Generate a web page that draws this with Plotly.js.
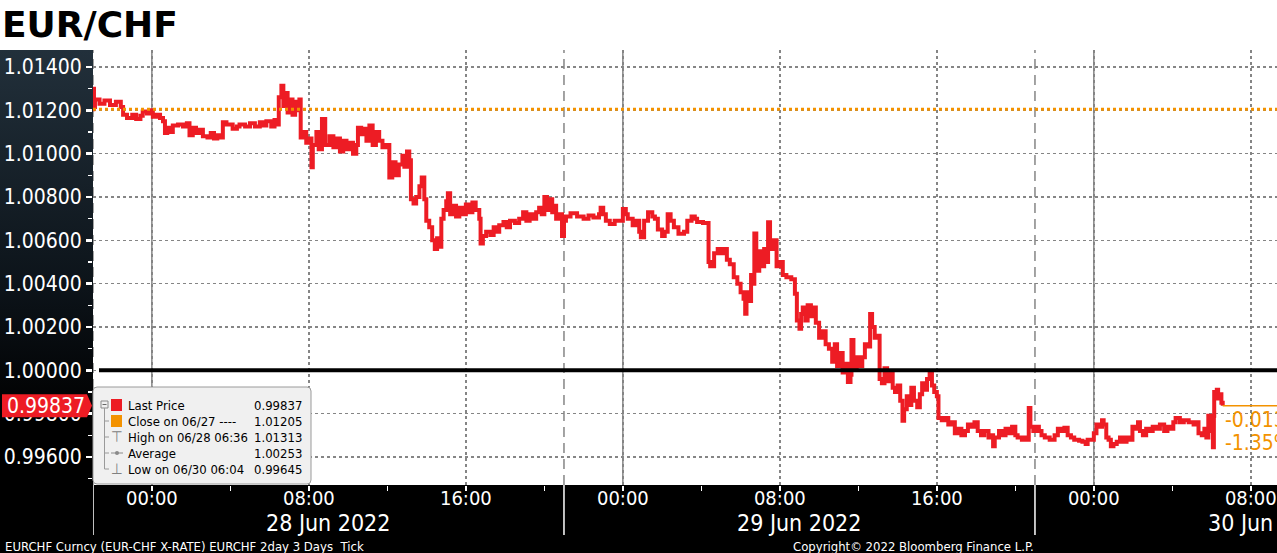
<!DOCTYPE html>
<html><head><meta charset="utf-8">
<script src="https://cdn.plot.ly/plotly-3.0.1.min.js"></script>
<style>html,body{margin:0;padding:0;background:#fff;overflow:hidden}#chart{width:1277px;height:553px}</style>
</head><body><div id="chart"></div>
<script>
// ---- data (EURCHF ticks) ----
const jun27 = [["21:00",1.01205],["21:01",1.01300],["21:03",1.01215],["21:06",1.01250],["21:20",1.01230],["21:35",1.01245],["21:52",1.01225],["22:10",1.01240],["22:25",1.01215],["22:32",1.01180],["22:44",1.01165],["23:00",1.01180],["23:12",1.01160],["23:25",1.01175],["23:32",1.01195],["23:45",1.01185],["23:54",1.01200]];
const jun28 = [["00:03",1.01170],["00:15",1.01180],["00:25",1.01165],["00:34",1.01150],["00:40",1.01095],["00:47",1.01120],["00:55",1.01100],["01:04",1.01130],["01:20",1.01135],["01:35",1.01125],["01:47",1.01140],["01:55",1.01085],["02:05",1.01120],["02:15",1.01095],["02:26",1.01110],["02:36",1.01080],["02:50",1.01075],["03:00",1.01095],["03:10",1.01070],["03:20",1.01085],["03:27",1.01075],["03:37",1.01145],["03:48",1.01135],["04:07",1.01115],["04:20",1.01125],["04:28",1.01135],["04:45",1.01125],["05:00",1.01140],["05:15",1.01125],["05:30",1.01145],["05:38",1.01130],["05:50",1.01150],["06:05",1.01125],["06:15",1.01155],["06:21",1.01135],["06:28",1.01260],["06:36",1.01313],["06:42",1.01220],["06:48",1.01280],["06:55",1.01190],["07:02",1.01250],["07:10",1.01180],["07:18",1.01240],["07:25",1.01200],["07:31",1.01250],["07:35",1.01075],["07:45",1.01100],["07:52",1.01050],["08:02",1.01070],["08:08",1.00937],["08:12",1.01040],["08:23",1.01100],["08:30",1.01020],["08:40",1.01160],["08:50",1.01040],["09:03",1.01080],["09:15",1.01030],["09:25",1.01070],["09:35",1.01010],["09:45",1.01060],["09:55",1.01020],["10:05",1.01050],["10:15",1.01000],["10:25",1.01040],["10:30",1.01120],["10:40",1.01090],["10:50",1.01115],["10:56",1.01060],["11:05",1.01130],["11:15",1.01040],["11:25",1.01100],["11:35",1.01060],["11:45",1.01030],["11:55",1.01040],["12:06",1.00890],["12:15",1.00960],["12:25",1.00900],["12:35",1.00950],["12:46",1.00990],["12:52",1.00940],["13:00",1.01010],["13:07",1.00970],["13:12",1.00790],["13:20",1.00770],["13:28",1.00800],["13:38",1.00850],["13:45",1.00890],["13:53",1.00790],["13:59",1.00690],["14:08",1.00660],["14:17",1.00600],["14:25",1.00560],["14:32",1.00610],["14:40",1.00570],["14:45",1.00700],["14:52",1.00740],["15:00",1.00780],["15:05",1.00817],["15:12",1.00720],["15:20",1.00760],["15:30",1.00710],["15:40",1.00750],["15:50",1.00720],["16:00",1.00765],["16:10",1.00730],["16:20",1.00775],["16:30",1.00740],["16:41",1.00700],["16:45",1.00585],["16:52",1.00620],["17:02",1.00640],["17:15",1.00625],["17:25",1.00660],["17:35",1.00640],["17:42",1.00670],["17:55",1.00685],["18:05",1.00660],["18:15",1.00690],["18:30",1.00680],["18:43",1.00700],["18:55",1.00730],["19:05",1.00690],["19:15",1.00720],["19:25",1.00700],["19:35",1.00730],["19:44",1.00750],["19:52",1.00720],["20:00",1.00800],["20:08",1.00740],["20:15",1.00790],["20:24",1.00730],["20:30",1.00760],["20:36",1.00700],["20:45",1.00720],["20:54",1.00620],["21:00",1.00690],["21:06",1.00710],["21:20",1.00725],["21:40",1.00710],["22:00",1.00700],["22:15",1.00715],["22:30",1.00705],["22:47",1.00720],["22:52",1.00750],["23:00",1.00720],["23:08",1.00690],["23:20",1.00675],["23:35",1.00690],["23:48",1.00690]];
const jun29 = [["00:00",1.00745],["00:09",1.00720],["00:15",1.00700],["00:30",1.00670],["00:40",1.00690],["00:50",1.00640],["00:55",1.00614],["01:05",1.00690],["01:17",1.00730],["01:30",1.00710],["01:38",1.00700],["01:47",1.00650],["02:00",1.00620],["02:08",1.00640],["02:17",1.00720],["02:26",1.00690],["02:36",1.00660],["02:50",1.00630],["03:07",1.00640],["03:17",1.00690],["03:30",1.00710],["03:40",1.00700],["03:47",1.00685],["04:05",1.00680],["04:18",1.00680],["04:22",1.00500],["04:27",1.00480],["04:39",1.00540],["04:50",1.00560],["05:00",1.00540],["05:09",1.00560],["05:18",1.00510],["05:27",1.00490],["05:39",1.00430],["05:50",1.00400],["06:00",1.00360],["06:09",1.00330],["06:14",1.00261],["06:18",1.00360],["06:25",1.00320],["06:32",1.00440],["06:39",1.00400],["06:42",1.00632],["06:48",1.00460],["06:57",1.00550],["07:05",1.00480],["07:12",1.00560],["07:18",1.00500],["07:24",1.00683],["07:30",1.00560],["07:39",1.00600],["07:50",1.00480],["08:00",1.00500],["08:09",1.00440],["08:20",1.00430],["08:35",1.00420],["08:46",1.00353],["08:52",1.00230],["09:00",1.00192],["09:05",1.00260],["09:10",1.00290],["09:18",1.00230],["09:25",1.00300],["09:35",1.00250],["09:42",1.00290],["09:50",1.00220],["10:00",1.00150],["10:10",1.00180],["10:20",1.00120],["10:30",1.00100],["10:40",1.00040],["10:48",1.00120],["10:55",1.00020],["11:05",1.00080],["11:12",0.99990],["11:21",1.00030],["11:28",0.99946],["11:36",0.99980],["11:39",1.00140],["11:45",1.00010],["11:55",1.00060],["12:05",1.00020],["12:12",1.00060],["12:20",1.00120],["12:30",1.00110],["12:36",1.00260],["12:42",1.00200],["12:50",1.00150],["13:00",1.00160],["13:05",0.99960],["13:12",0.99940],["13:20",1.00010],["13:28",0.99950],["13:35",0.99990],["13:45",0.99920],["13:52",0.99900],["14:00",0.99930],["14:08",0.99860],["14:15",0.99767],["14:20",0.99820],["14:28",0.99880],["14:35",0.99840],["14:42",0.99920],["14:50",0.99860],["15:00",0.99830],["15:08",0.99890],["15:15",0.99940],["15:22",0.99910],["15:30",0.99960],["15:38",0.99983],["15:45",0.99930],["15:52",0.99900],["16:00",0.99880],["16:05",0.99780],["16:15",0.99770],["16:25",0.99780],["16:35",0.99750],["16:45",0.99760],["16:55",0.99710],["17:05",0.99730],["17:15",0.99700],["17:26",0.99720],["17:35",0.99750],["17:45",0.99740],["17:55",0.99760],["18:05",0.99720],["18:15",0.99700],["18:25",0.99720],["18:38",0.99690],["18:48",0.99700],["18:52",0.99650],["18:57",0.99690],["19:10",0.99720],["19:20",0.99700],["19:30",0.99730],["19:40",0.99710],["19:50",0.99740],["20:00",0.99700],["20:07",0.99690],["20:20",0.99680],["20:30",0.99690],["20:38",0.99680],["20:41",0.99826],["20:46",0.99740],["20:55",0.99720],["21:05",0.99740],["21:12",0.99720],["21:20",0.99700],["21:30",0.99690],["21:45",0.99680],["22:00",0.99700],["22:10",0.99730],["22:20",0.99720],["22:30",0.99735],["22:40",0.99700],["22:50",0.99690],["23:00",0.99680],["23:15",0.99675],["23:25",0.99670],["23:35",0.99660],["23:41",0.99680]];
const jun30 = [["00:00",0.99710],["00:08",0.99750],["00:18",0.99740],["00:25",0.99770],["00:30",0.99750],["00:38",0.99690],["00:45",0.99680],["00:52",0.99650],["01:00",0.99660],["01:10",0.99670],["01:20",0.99690],["01:30",0.99670],["01:40",0.99690],["01:51",0.99680],["01:58",0.99740],["02:08",0.99730],["02:15",0.99760],["02:21",0.99720],["02:30",0.99700],["02:40",0.99730],["02:52",0.99720],["03:00",0.99740],["03:12",0.99730],["03:22",0.99750],["03:35",0.99720],["03:45",0.99740],["03:55",0.99730],["04:03",0.99760],["04:10",0.99780],["04:23",0.99760],["04:35",0.99770],["04:50",0.99760],["05:05",0.99750],["05:14",0.99760],["05:20",0.99710],["05:30",0.99700],["05:38",0.99730],["05:44",0.99690],["05:50",0.99790],["05:56",0.99720],["06:00",0.99780],["06:04",0.99645],["06:07",0.99790],["06:08",0.99900],["06:12",0.99880],["06:16",0.99910],["06:20",0.99870],["06:25",0.99890],["06:30",0.99850],["06:34",0.99837]];

const tradingDays = ["2022-06-27","2022-06-28","2022-06-29","2022-06-30"];
const dayLabels = ["28 Jun 2022","29 Jun 2022","30 Jun 2022"];
const legendLabels = ["Last Price","Close on 06/27 ----","High on 06/28 06:36","Average","Low on 06/30 06:04"];
const legendValues = ["0.99837","1.01205","1.01313","1.00253","0.99645"];
const lastPrice = 0.99837;
const prevClose = 1.01205;
const parLevel = 1.0;
const changeLabels = ["-0.01368","-1.35%"];
const footerLeft = "EURCHF Curncy (EUR-CHF X-RATE) EURCHF 2day 3 Days  Tick";
const footerRight = "Copyright\u00A9 2022 Bloomberg Finance L.P.";

// ---- build series ----
const times = [], prices = [];
[jun27, jun28, jun29, jun30].forEach((rows, i) => rows.forEach(([t, p]) => { times.push(tradingDays[i] + " " + t); prices.push(p); }));
const lastTime = times[times.length - 1];

const RED = "#ed1c24", ORANGE = "#f39200", GRID = "#858585";
const FONT = "'DejaVu Sans Condensed', 'DejaVu Sans', sans-serif";
const L = 93, T = 50, W = 1184, H = 435;
const px = x => (x - L) / W;
const py = y => (T + H - y) / H;
const xStart = "2022-06-27 21:00", xEnd = "2022-06-30 09:20";

const shapes = [], annotations = [];
// black bottom strip
shapes.push({type:"rect", xref:"paper", yref:"paper", x0:px(0), x1:1, y0:py(560), y1:0, fillcolor:"#000", line:{width:0}, layer:"below"});
// session breaks (21:00), midnights
const sessionBreaks = tradingDays.slice(0, 3).map(d => d + " 21:00");
const midnights = tradingDays.slice(1);
sessionBreaks.forEach(s => {
  shapes.push({type:"line", xref:"x", yref:"paper", x0:s, x1:s, y0:0, y1:1, line:{color:GRID, width:1.5, dash:"10px,6px"}, layer:"below"});
  shapes.push({type:"line", xref:"x", yref:"paper", x0:s, x1:s, y0:py(535), y1:0, line:{color:"#fff", width:1.5}, layer:"below"});
});
midnights.forEach(m => shapes.push({type:"line", xref:"x", yref:"paper", x0:m, x1:m, y0:0, y1:1, line:{color:GRID, width:1.5}, layer:"below"}));
// reference lines
shapes.push({type:"line", xref:"paper", yref:"y", x0:px(99), x1:1, y0:parLevel, y1:parLevel, line:{color:"#000", width:4}, layer:"above"});
shapes.push({type:"line", xref:"paper", yref:"y", x0:0, x1:1, y0:prevClose, y1:prevClose, line:{color:ORANGE, width:3, dash:"dot"}, layer:"above"});
shapes.push({type:"line", xref:"x", yref:"y", x0:lastTime, x1:xEnd, y0:lastPrice, y1:lastPrice, line:{color:ORANGE, width:1.5}, layer:"above"});
// last price tag on the axis
shapes.push({type:"path", xref:"paper", yref:"y", xsizemode:"pixel", ysizemode:"pixel", xanchor:0, yanchor:lastPrice,
  path:"M -91 11.5 L -6 11.5 L -1 0 L -6 -11.5 L -91 -11.5 Z", fillcolor:RED, line:{width:0}, layer:"above"});
annotations.push({xref:"paper", yref:"y", x:px(46), y:lastPrice, text:legendValues[0], showarrow:false, xanchor:"center", yanchor:"middle",
  font:{family:FONT, size:21, color:"#fff"}});
// change labels at right
changeLabels.forEach((c, i) => annotations.push({xref:"x", yref:"y", x:lastTime, y:lastPrice, xanchor:"left", yanchor:"middle", xshift:0, yshift:-14 - 23*i,
  text:c, showarrow:false, font:{family:FONT, size:21, color:ORANGE}}));

// legend box
const bx0 = 93, bx1 = 311, by0 = 387, by1 = 484, r = 4;
const P = (x, y) => px(x) + "," + py(y);
shapes.push({type:"path", xref:"paper", yref:"paper", layer:"above", fillcolor:"#f0f0f0", line:{color:"#9a9a9a", width:1},
  path:`M ${P(bx0+r,by0)} L ${P(bx1-r,by0)} Q ${P(bx1,by0)} ${P(bx1,by0+r)} L ${P(bx1,by1-r)} Q ${P(bx1,by1)} ${P(bx1-r,by1)} L ${P(bx0+r,by1)} Q ${P(bx0,by1)} ${P(bx0,by1-r)} L ${P(bx0,by0+r)} Q ${P(bx0,by0)} ${P(bx0+r,by0)} Z`});
const rowY = legendLabels.map((_, i) => 405 + 16*i);
// tree
shapes.push({type:"rect", xref:"paper", yref:"paper", x0:px(101), x1:px(108), y0:py(401), y1:py(408), line:{color:"#8a8a8a", width:1}, fillcolor:"#f0f0f0", layer:"above"});
shapes.push({type:"line", xref:"paper", yref:"paper", x0:px(102.5), x1:px(106.5), y0:py(404.5), y1:py(404.5), line:{color:"#666", width:1}, layer:"above"});
shapes.push({type:"line", xref:"paper", yref:"paper", x0:px(104.5), x1:px(104.5), y0:py(408), y1:py(rowY[4]), line:{color:"#9a9a9a", width:1}, layer:"above"});
rowY.slice(1).forEach(y => shapes.push({type:"line", xref:"paper", yref:"paper", x0:px(104.5), x1:px(109), y0:py(y), y1:py(y), line:{color:"#9a9a9a", width:1}, layer:"above"}));
[RED, ORANGE].forEach((c, i) => shapes.push({type:"rect", xref:"paper", yref:"paper", x0:px(111), x1:px(122), y0:py(rowY[i]-6), y1:py(rowY[i]+6), fillcolor:c, line:{width:0}, layer:"above"}));
// high / low glyphs
[[2, "\u22A4"], [4, "\u22A5"]].forEach(([i, g]) => annotations.push({xref:"paper", yref:"paper", x:px(117), y:py(rowY[i]), text:g, showarrow:false,
  xanchor:"center", yanchor:"middle", font:{family:FONT, size:15, color:"#808080"}}));
shapes.push({type:"line", xref:"paper", yref:"paper", x0:px(111), x1:px(123), y0:py(rowY[3]), y1:py(rowY[3]), line:{color:"#8a8a8a", width:1}, layer:"above"});
shapes.push({type:"circle", xref:"paper", yref:"paper", x0:px(115), x1:px(119), y0:py(rowY[3]+2), y1:py(rowY[3]-2), fillcolor:"#8a8a8a", line:{width:0}, layer:"above"});
legendLabels.forEach((lab, i) => {
  annotations.push({xref:"paper", yref:"paper", x:px(126), y:py(rowY[i]), text:lab, showarrow:false, xanchor:"left", yanchor:"middle", font:{family:FONT, size:13, color:"#000"}});
  annotations.push({xref:"paper", yref:"paper", x:px(304), y:py(rowY[i]), text:legendValues[i], showarrow:false, xanchor:"right", yanchor:"middle", font:{family:FONT, size:13, color:"#000"}});
});
// date labels (centred on each session; the last one runs off the right edge)
dayLabels.forEach((d, i) => annotations.push({xref:"x", yref:"paper", x:tradingDays[i+1] + " 09:00", y:py(523), text:d, showarrow:false,
  xanchor:"center", yanchor:"middle", font:{family:FONT, size:23, color:"#fff"}}));
// footer
annotations.push({xref:"paper", yref:"paper", x:px(3), y:py(546), text:footerLeft, showarrow:false, xanchor:"left", yanchor:"middle", font:{family:FONT, size:13, color:"#fff"}});
annotations.push({xref:"paper", yref:"paper", x:px(913), y:py(546), text:footerRight, showarrow:false, xanchor:"center", yanchor:"middle", font:{family:FONT, size:13, color:"#fff"}});

// left axis panel gradient
const grad = '<svg xmlns="http://www.w3.org/2000/svg" width="93" height="435" preserveAspectRatio="none"><defs><linearGradient id="g" x1="0" y1="0" x2="0" y2="1"><stop offset="0" stop-color="#22303b"/><stop offset="0.55" stop-color="#0c1319"/><stop offset="0.85" stop-color="#000"/><stop offset="1" stop-color="#000"/></linearGradient></defs><rect width="93" height="435" fill="url(#g)"/></svg>';

const trace = {type:"scatter", mode:"lines", x:times, y:prices, line:{color:RED, width:4, shape:"hv"}, hoverinfo:"skip"};

const layout = {
  width:1277, height:553, margin:{l:L, r:0, t:T, b:553-T-H},
  paper_bgcolor:"#fff", plot_bgcolor:"#fff", showlegend:false,
  title:{text:"<b>EUR/CHF</b>", x:2/1277, xref:"container", xanchor:"left", y:1-24/553, yref:"container", yanchor:"middle",
    font:{family:"'DejaVu Sans', sans-serif", size:36, color:"#000"}},
  xaxis:{type:"date", range:[xStart, xEnd], tick0:"2022-06-28 00:00", dtick:8*3600*1000, tickformat:"%H:%M",
    ticks:"outside", ticklen:5, tickwidth:1.5, tickcolor:"#fff", tickfont:{family:FONT, size:20, color:"#fff"}, ticklabelstandoff:-10,
    showgrid:true, gridcolor:GRID, griddash:"dot", gridwidth:1.5, zeroline:false, showline:false, fixedrange:true,
    minor:{dtick:4*3600*1000, tick0:"2022-06-28 00:00", ticks:"outside", ticklen:5, tickwidth:1.5, tickcolor:"#fff", showgrid:false}},
  yaxis:{range:[0.994708, 1.014785], tick0:1.0, dtick:0.002, tickformat:".5f",
    ticks:"outside", ticklen:6, tickwidth:2.5, tickcolor:"#fff", tickfont:{family:FONT, size:21, color:"#fff"},
    showgrid:true, gridcolor:GRID, griddash:"dot", gridwidth:1.5, zeroline:false, showline:false, fixedrange:true,
    minor:{dtick:0.001, tick0:1.0, ticks:"outside", ticklen:4, tickwidth:1.5, tickcolor:"#fff", showgrid:false}},
  images:[{source:"data:image/svg+xml;charset=utf-8," + encodeURIComponent(grad), xref:"paper", yref:"paper", x:px(0), y:1,
    sizex:L/W, sizey:1, sizing:"stretch", xanchor:"left", yanchor:"top", layer:"below"}],
  shapes, annotations
};
Plotly.newPlot("chart", [trace], layout, {staticPlot:true, displayModeBar:false});
</script></body></html>
